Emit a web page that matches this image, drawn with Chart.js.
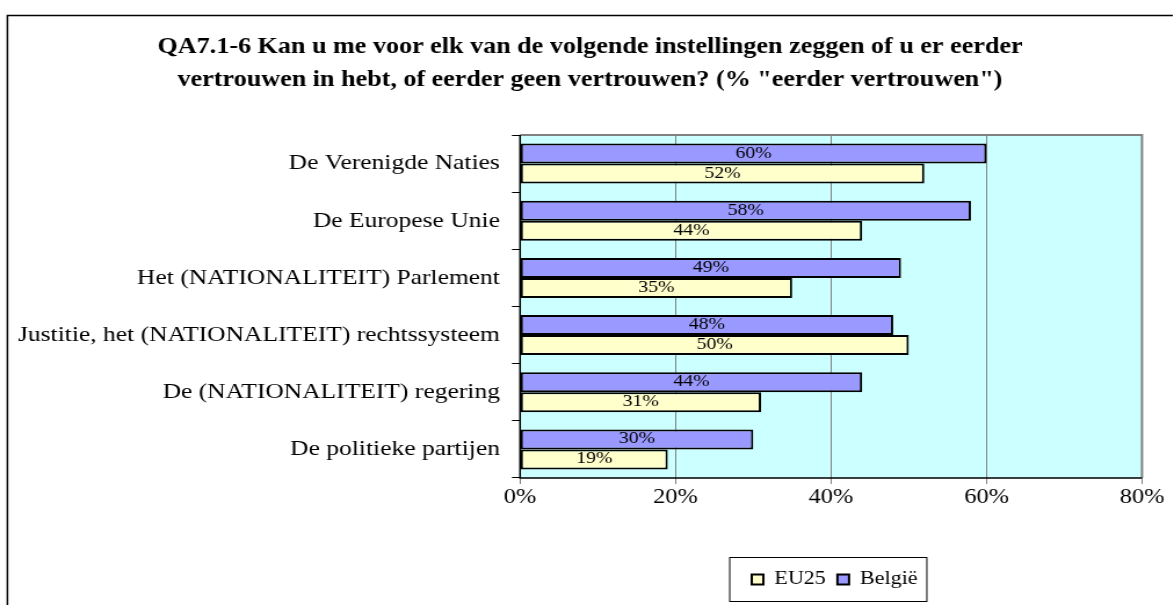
<!DOCTYPE html>
<html>
<head>
<meta charset="utf-8">
<script src="https://cdn.jsdelivr.net/npm/chart.js@4.4.1/dist/chart.umd.min.js"></script>
<style>
html,body{margin:0;padding:0;background:#fff;overflow:hidden;}
#wrap{width:1174px;height:605px;position:relative;overflow:hidden;}
#stretch{position:absolute;left:0;top:0;width:1012px;height:605px;transform:scaleX(1.16008);transform-origin:0 0;}
</style>
</head>
<body>
<div id="wrap"><div id="stretch"><canvas id="c" width="1012" height="605"></canvas></div></div>
<script>
const categories = [
  "De Verenigde Naties",
  "De Europese Unie",
  "Het (NATIONALITEIT) Parlement",
  "Justitie, het (NATIONALITEIT) rechtssysteem",
  "De (NATIONALITEIT) regering",
  "De politieke partijen"
];
const belgie = [60, 58, 49, 48, 44, 30];
const eu25 = [52, 44, 35, 50, 31, 19];
const xTicks = [0, 20, 40, 60, 80];
const titleLines = [
  'QA7.1-6 Kan u me voor elk van de volgende instellingen zeggen of u er eerder',
  'vertrouwen in hebt, of eerder geen vertrouwen? (% "eerder vertrouwen")'
];

const SERIF = "'Liberation Serif', 'Times New Roman', serif";
const TITLE_CX = 508.6;
const LEGEND_CX = 719.5;

const layoutPlugin = {
  id: 'fixLayout',
  afterLayout(chart) {
    const t = chart.titleBlock;
    if (t) { t.left = TITLE_CX - 500; t.right = TITLE_CX + 500; t.width = 1000; }
    const l = chart.legend;
    if (l) { l.left = LEGEND_CX - 300; l.right = LEGEND_CX + 300; l.width = 600; }
  }
};

const bgPlugin = {
  id: 'bg',
  beforeDraw(chart) {
    const ctx = chart.ctx, a = chart.chartArea;
    ctx.save();
    ctx.fillStyle = '#fff';
    ctx.fillRect(0, 0, chart.width, chart.height);
    ctx.fillStyle = '#CCFFFF';
    ctx.fillRect(a.left, a.top, a.right - a.left, a.bottom - a.top);
    ctx.strokeStyle = '#000';
    ctx.lineWidth = 1.5;
    ctx.beginPath();
    ctx.moveTo(6.4, chart.height + 5);
    ctx.lineTo(6.4, 15.5);
    ctx.lineTo(1011, 15.5);
    ctx.stroke();
    ctx.restore();
  },
  afterDatasetsDraw(chart) {
    const ctx = chart.ctx, a = chart.chartArea;
    ctx.save();
    ctx.strokeStyle = '#808080';
    ctx.lineWidth = 2;
    ctx.beginPath();
    ctx.moveTo(a.left, a.top);
    ctx.lineTo(a.right, a.top);
    ctx.lineTo(a.right, a.bottom);
    ctx.stroke();
    ctx.strokeStyle = '#000';
    ctx.lineWidth = 1.5;
    ctx.beginPath();
    ctx.moveTo(a.left, a.top);
    ctx.lineTo(a.left, a.bottom);
    ctx.lineTo(a.right, a.bottom);
    ctx.stroke();
    ctx.fillStyle = '#000';
    ctx.font = "17px " + SERIF;
    ctx.textAlign = 'center';
    ctx.textBaseline = 'middle';
    chart.data.datasets.forEach((ds, di) => {
      const meta = chart.getDatasetMeta(di);
      meta.data.forEach((el, i) => {
        const cx = (el.base + el.x) / 2;
        ctx.fillText(ds.data[i] + '%', cx, el.y - 0.5);
      });
    });
    const lg = chart.legend;
    if (lg && lg.legendHitBoxes && lg.legendHitBoxes.length) {
      const hb = lg.legendHitBoxes;
      const x0 = Math.min(...hb.map(h => h.left)), x1 = Math.max(...hb.map(h => h.left + h.width));
      const cy = hb[0].top + hb[0].height / 2;
      ctx.strokeStyle = '#000';
      ctx.lineWidth = 1;
      ctx.strokeRect(x0 - 19, Math.round(cy - 22.5) + 0.5, (x1 - x0) + 27, 44);
    }
    ctx.restore();
  }
};

new Chart(document.getElementById('c'), {
  type: 'bar',
  data: {
    labels: categories,
    datasets: [
      { label: 'België', data: belgie, backgroundColor: '#9999FF', borderColor: '#000', borderWidth: 2, borderSkipped: false },
      { label: 'EU25', data: eu25, backgroundColor: '#FFFFCC', borderColor: '#000', borderWidth: 2, borderSkipped: false }
    ]
  },
  options: {
    indexAxis: 'y',
    responsive: false,
    animation: false,
    devicePixelRatio: 1,
    layout: { padding: { left: 0, right: 27.6, top: 0, bottom: 6 } },
    datasets: { bar: { barPercentage: 1.0, categoryPercentage: 0.70 } },
    scales: {
      x: {
        min: 0, max: 80,
        afterBuildTicks(scale) { scale.ticks = xTicks.map(v => ({ value: v })); },
        afterFit(scale) { scale.height = 82; },
        grid: { color: '#808080', lineWidth: 1, drawTicks: true, tickLength: 6, tickColor: '#808080' },
        border: { display: false },
        ticks: { callback: v => v + '%', color: '#000', font: { family: SERIF, size: 21 }, padding: 1, maxRotation: 0 }
      },
      y: {
        afterFit(scale) { scale.width = 448.3; },
        grid: { drawOnChartArea: false, drawTicks: true, tickLength: 7, tickColor: '#000', offset: true },
        border: { display: false },
        ticks: { color: '#000', font: { family: SERIF, size: 22 }, padding: 10.4 }
      }
    },
    plugins: {
      title: {
        display: true,
        text: titleLines,
        color: '#000',
        font: { family: SERIF, size: 22.5, weight: 'bold', lineHeight: 33 / 22.5 },
        padding: { top: 31, bottom: 38 }
      },
      legend: {
        position: 'bottom',
        reverse: true,
        labels: { color: '#000', font: { family: SERIF, size: 19 }, boxWidth: 10, boxHeight: 10, padding: 10 }
      },
      tooltip: { enabled: false }
    }
  },
  plugins: [layoutPlugin, bgPlugin]
});
</script>
</body>
</html>
